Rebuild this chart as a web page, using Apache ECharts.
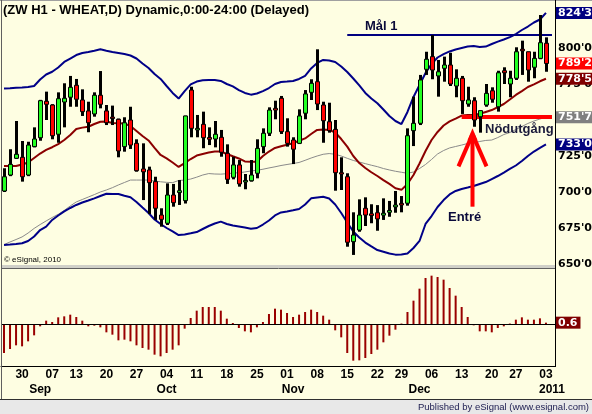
<!DOCTYPE html>
<html>
<head>
<meta charset="utf-8">
<title>ZW H1 - WHEAT,D</title>
<script src="https://cdn.jsdelivr.net/npm/echarts@6.0.0/dist/echarts.min.js"></script>
<style>
  html, body { margin: 0; padding: 0; background: #fefee2; }
  #chart { width: 592px; height: 414px; }
</style>
</head>
<body>
<div id="chart"></div>
<script>
// trading days, MM-DD (last one is an empty slot)
var dates = ['08-25','08-26','08-27',
  '08-30','08-31','09-01','09-02','09-03',
  '09-07','09-08','09-09','09-10',
  '09-13','09-14','09-15','09-16','09-17',
  '09-20','09-21','09-22','09-23','09-24',
  '09-27','09-28','09-29','09-30','10-01',
  '10-04','10-05','10-06','10-07','10-08',
  '10-11','10-12','10-13','10-14','10-15',
  '10-18','10-19','10-20','10-21','10-22',
  '10-25','10-26','10-27','10-28','10-29',
  '11-01','11-02','11-03','11-04','11-05',
  '11-08','11-09','11-10','11-11','11-12',
  '11-15','11-16','11-17','11-18','11-19',
  '11-22','11-23','11-24','11-26',
  '11-29','11-30','12-01','12-02','12-03',
  '12-06','12-07','12-08','12-09','12-10',
  '12-13','12-14','12-15','12-16','12-17',
  '12-20','12-21','12-22','12-23',
  '12-27','12-28','12-29','12-30','12-31',
  '01-03','01-04'];

var weekStarts = ['08-30','09-07','09-13','09-20','09-27','10-04','10-11','10-18','10-25',
  '11-01','11-08','11-15','11-22','11-29','12-06','12-13','12-20','12-27','01-03'];
var monthMarks = {'09-02': 'Sep', '10-04': 'Oct', '11-02': 'Nov', '12-02': 'Dec', '01-04': '2011'};

var opens = [700.7,711.8,723.4,724.1,711.8,731.5,737.7,763,760.4,740.1,
  762.5,765.8,774.1,763.9,756.3,754.2,767.2,756.3,752,750.5,
  731.5,750,733.8,716,715.3,707.2,684,678.3,697.9,700,
  694,770.8,743.1,747,737.5,736.8,738,726.9,710.2,718.8,
  707,707.8,713,731.5,740.8,758.1,765.1,741.9,736.1,733.8,
  754.7,769.2,776.6,760.4,748.8,743.5,713.4,710.6,665.5,673.6,
  688.7,684.5,685.6,684.3,686.3,690,692.1,692.2,742.6,747.7,
  785.2,794,780.6,785.9,788.2,773.6,779,761.1,763.4,752.3,
  760.4,770.3,759.2,784.2,775,779,798.8,797.4,786.6,792.8,
  803.3];
var closes = [710.6,719.2,726.2,710.6,732.6,736.8,763.4,760.9,739.1,764.8,
  765.1,772.7,764.4,755.8,748.1,767.2,760.9,748.1,751,728.5,
  748.1,732.6,714.8,714,706.5,688.7,681,697.9,692.6,700.5,
  752.8,744.2,744.2,737.7,737,740.1,727.6,708.8,718.8,705.6,
  708,711.8,730.3,740.8,756.9,756.9,741.9,733.8,729.7,752.8,
  768.1,775.5,761.1,749.5,742.6,713.4,712.5,665.1,670.1,684,
  684,684,681.3,684.9,686.8,690.6,691,739.1,747.7,777.8,
  792.2,784.7,783.5,788.2,775,779,763.4,763.9,750,756.5,
  768.5,764.4,782.8,782.8,779,797.4,798.4,784.7,792.8,803.7,
  789.25];
var lows = [700,711,723,707.2,711,731,735.6,750,736.6,734.2,
  744.9,759.2,759.2,752.8,741.5,752.3,758.1,746.5,746.5,724.1,
  728,729.9,714.1,694.4,684.7,680.6,675.9,677.1,689.8,691,
  692,738,738,730.4,732.6,731,724.5,705.6,708.8,703.7,
  701.9,707.2,709.5,726.9,738.9,750.5,740.3,731.5,719.4,733.3,
  750.5,763.9,756.9,734.2,741.2,700.9,701.4,662,656.3,672.4,
  676.4,678.3,673.1,680.6,682.8,685.6,685.9,690.5,731.9,746.5,
  781.3,778.3,766.2,776.6,773.6,765.8,754.2,759.2,745.3,741.2,
  759.2,762,755.8,775,765.8,777.8,781.3,776.6,779,792.2,
  783.5];
var highs = [716.5,729.7,749.3,735.4,734.9,744.9,764,769.7,761,769.2,
  775.5,780.6,778.5,771.3,762.7,769.2,784,760.4,760,751,
  751.9,759.2,736.6,733.8,717.6,710.6,688.7,706,705.6,708.3,
  753,773.1,753.5,755.8,744.9,749.3,743.1,733.1,724.5,722.2,
  712.5,722.2,736.6,744.2,758.8,763.4,766.7,751.2,738,757.4,
  770.8,778.3,799.1,762.7,762,750,724.1,713,685.9,694.9,
  696.3,691.5,690.9,695.6,693.8,700.7,697.2,744.2,766.2,781.3,
  797.4,809,791.7,794,796.7,785.2,780.6,773.1,765.8,756.5,
  775,772.7,784.2,786.6,784.2,800.5,805.1,797.4,797.4,822.9,
  807.4];

// bands and averages
var upper = [771.9,772.1,772.4,772.6,772.9,773.6,778.1,781.6,783.5,786.5,
  790.3,792.7,795.1,796.5,797.2,798.1,799.1,798.1,797.2,796.5,
  795.8,794.8,792.7,789.2,786.1,781.9,778.5,773.6,768.8,764.9,
  770.1,774.7,776.7,777.6,777.8,777.8,777.1,775,773.3,770.8,
  768.8,767.6,768.4,770.1,772.2,775,776.4,776.7,777.1,778.5,
  780.6,785.8,789.6,791.7,791.3,790.3,787.2,783.3,778.8,774,
  768.8,764.9,761.6,757.3,752.8,749.3,747.2,755.6,766,774.3,
  782.6,788.9,793.4,795.8,797.6,799,800,801,801.4,800.7,
  801,802.8,804.4,805.9,807.6,809.7,812.5,814.9,817.7,819.8,
  824.375];
var middle = [718.1,718.1,718.1,719.1,720.5,723.6,726.7,729.2,731.1,733.3,
  736.1,739.6,743.8,744.7,745.3,747.2,748.8,749,747.9,747.7,
  747.5,745.8,742.4,738.9,735.8,730.6,725.7,723.3,720.5,717.4,
  720.1,722.9,725.3,726.4,727.4,728.1,728.1,726.4,724.8,723.3,
  721.2,721,721,725,728.1,730.6,731.8,732.8,733.9,735.6,
  737.2,740.3,743.1,743.4,743.1,741.3,736.8,731.5,725,720.1,
  716.7,713.7,711.1,708.3,705.6,702.6,701.5,705.6,711.8,719.8,
  728.5,736.1,741.7,746.2,749,751,753.1,753.5,753.5,754.3,
  755.6,756.9,759,761.1,764.2,767.4,770.1,772.9,774.7,776.9,
  778.625];
var lower = [663.2,663.5,663.9,664.4,666,669.1,673.6,676,680.6,683.7,
  686.5,688.9,691,692.7,694.1,695.6,697.2,698.8,698.6,698.6,
  697.4,696.3,693.1,689.2,685.4,680.9,677.8,675,672.6,670.1,
  670.5,671.3,672.2,674.3,676.4,678.1,679.4,677.8,676.7,676,
  675.3,674.5,675,677.4,680.2,683.7,685.8,686.5,687.3,688.2,
  691.3,695.6,696.2,696.7,695.5,691.3,685.4,678.8,672.6,668.4,
  664.9,662.2,659.7,658.5,657.3,656.5,656.6,657.3,661.1,666,
  677.8,683.3,689.6,694.4,698.3,700.7,702.1,703.1,704.2,705.6,
  706.9,709,711.1,713.5,716,718.4,721.5,725,728.1,730.6,
  733];
var slow = [663.5,665.3,667,668.8,671.5,674.7,677.4,679.9,682.3,684.5,
  687.2,690.3,693.1,694.8,696.5,698.2,700,701.4,703,704.9,
  706.6,708.3,708.3,708.3,708.3,707.6,707.1,706.7,706.5,708,
  708.3,709,710.3,711.8,712.8,712.5,712.4,712.7,713.1,713.4,
  713.9,714.6,715.1,715.8,716.7,717.5,718.4,719.1,719.8,720.5,
  722,723.6,725,726.2,726.7,726.2,725,723.4,721.9,720.8,
  719.7,718.6,717.6,716.3,715.3,714.4,713.7,713,713.9,716.3,
  719.1,722.6,726.4,728.8,730.6,731.6,732.6,733.7,734,735.1,
  735.8,736.1,737.8,739.9,741.3,743.4,745.5,747.6,749.3,750.7,
  751.875];

// lower panel oscillator
var hist = [-13.05,-11.25,-9.6,-10.05,-7.8,-5.1,-1.05,1.5,0.9,3.0,
  3.45,4.2,3.15,1.5,-1.05,-0.75,-1.5,-3.75,-4.8,-7.35,
  -7.05,-7.8,-9.6,-10.8,-11.55,-13.8,-14.55,-13.05,-11.55,-9.6,
  -2.1,2.7,6.0,7.65,7.65,7.65,6.0,2.4,0.45,-1.8,
  -3.3,-3.75,-1.5,0.9,4.5,6.9,6.45,4.95,3.15,4.2,
  5.4,6.45,5.4,3.75,1.95,-2.85,-6.0,-13.05,-16.5,-16.35,
  -15.3,-13.5,-11.55,-8.25,-5.25,-2.55,0.2,5.4,10.5,15.9,
  20.7,21.75,21.15,19.95,16.2,12.75,7.65,3.15,-0.6,-3.3,
  -3.3,-3.75,-1.8,-1.05,0.2,1.95,3.0,1.95,1.95,2.55,
  0.6];

// annotations
var targetLevel = 809.5, targetFrom = '11-15';
var exitLevel = 752, exitFrom = '12-13';
var entryIndex = 78, entryTip = 744.2, entryBase = 689.8;
var lastOsc = 0.6;

var FONT = 'Liberation Sans, Arial, sans-serif';
var BG = '#fefee2';

function eighths(v) {
  var w = Math.floor(v);
  return w + "'" + Math.round((v - w) * 8);
}

function flag(v, text, bg) {
  return {
    yAxis: v,
    lineStyle: { color: 'rgba(0,0,0,0)', width: 1 },
    label: {
      show: true, position: 'end', distance: 1, formatter: text,
      backgroundColor: bg, color: '#fff', fontWeight: 'bold',
      fontFamily: 'DejaVu Sans', fontSize: 11, padding: [1, 3, 0, 2]
    }
  };
}

var candleData = [];
for (var i = 0; i < closes.length; i++) {
  candleData.push([i, opens[i], closes[i], lows[i], highs[i]]);
}
var last = closes.length - 1;

function renderCandle(params, api) {
  var i = api.value(0);
  var o = api.coord([i, api.value(1)]);
  var c = api.coord([i, api.value(2)]);
  var l = api.coord([i, api.value(3)]);
  var h = api.coord([i, api.value(4)]);
  var x = Math.round(o[0]);
  var top = Math.min(o[1], c[1]), bot = Math.max(o[1], c[1]);
  if (bot - top < 1) { top -= 0.5; bot += 0.5; }
  var up = api.value(2) >= api.value(1);
  return {
    type: 'group',
    children: [
      { type: 'rect', shape: { x: x - 1, y: h[1], width: 3, height: l[1] - h[1] }, style: { fill: '#000' } },
      { type: 'rect', shape: { x: x - 1.5, y: top, width: 4, height: bot - top },
        style: { fill: up ? '#22ff22' : '#ff0000', stroke: '#000', lineWidth: 1 } }
    ]
  };
}

function renderArrow(params, api) {
  var tip = api.coord([api.value(0), api.value(1)]);
  var base = api.coord([api.value(0), api.value(2)]);
  var x = Math.round(tip[0]) - 1.5, y = tip[1];
  var st = { stroke: '#ff0000', lineWidth: 4 };
  return {
    type: 'group',
    children: [
      { type: 'line', shape: { x1: x, y1: y + 6, x2: x, y2: base[1] }, style: st },
      { type: 'line', shape: { x1: x, y1: y + 6, x2: x - 14, y2: y + 38 }, style: st },
      { type: 'line', shape: { x1: x, y1: y + 6, x2: x + 14, y2: y + 38 }, style: st },
      { type: 'polygon', shape: { points: [[x, y], [x - 5, y + 12], [x + 5, y + 12]] }, style: { fill: '#ff0000' } }
    ]
  };
}

var chart = echarts.init(document.getElementById('chart'));
chart.setOption({
  animation: false,
  backgroundColor: BG,
  textStyle: { fontFamily: FONT },
  grid: [
    { left: 1, width: 554, top: 12, height: 252, outerBoundsMode: 'none', containLabel: false },
    { left: 1, width: 554, top: 268, height: 98, outerBoundsMode: 'none', containLabel: false }
  ],
  xAxis: [
    { type: 'category', gridIndex: 0, data: dates, show: false },
    { type: 'category', gridIndex: 1, data: dates, position: 'bottom',
      axisLine: { onZero: false, lineStyle: { color: '#000', width: 1 } },
      axisTick: { show: false }, splitLine: { show: false },
      axisLabel: {
        interval: function (idx, v) { return weekStarts.indexOf(v) >= 0; },
        formatter: function (v) { return v.slice(3); },
        color: '#000', fontWeight: 'bold', fontSize: 12, margin: 3
      } },
    { type: 'category', gridIndex: 1, data: dates, position: 'bottom',
      axisLine: { show: false, onZero: false }, axisTick: { show: false }, splitLine: { show: false },
      axisLabel: {
        interval: function (idx, v) { return monthMarks.hasOwnProperty(v); },
        formatter: function (v) { return monthMarks[v] || ''; },
        color: '#000', fontWeight: 'bold', fontSize: 12, margin: 18
      } }
  ],
  yAxis: [
    { type: 'value', gridIndex: 0, position: 'right', min: 650, max: 825, interval: 25,
      splitLine: { show: false }, axisLine: { show: false }, axisTick: { show: false },
      axisLabel: { margin: 3, color: '#000', fontWeight: 'bold', fontSize: 11, fontFamily: 'DejaVu Sans',
        formatter: function (v) { return v >= 825 ? '' : eighths(v); } } },
    { type: 'value', gridIndex: 1, position: 'right', min: -18.9, max: 25.2, show: false }
  ],
  series: [
    { name: 'slow', type: 'line', xAxisIndex: 0, yAxisIndex: 0, data: slow, symbol: 'none', z: 2,
      lineStyle: { color: '#8a8a8a', width: 1 }, silent: true,
      markLine: { silent: true, symbol: 'none', animation: false, z: 8,
        data: [
          flag(upper[last], eighths(upper[last]), '#000080'),
          flag(closes[last], eighths(closes[last]), '#ff0000'),
          flag(middle[last], eighths(middle[last]), '#800000'),
          flag(slow[last], eighths(slow[last]), '#808080'),
          flag(lower[last], eighths(lower[last]), '#000080')
        ] } },
    { name: 'lower', type: 'line', xAxisIndex: 0, yAxisIndex: 0, data: lower, symbol: 'none', z: 2,
      lineStyle: { color: '#000088', width: 2 }, silent: true },
    { name: 'middle', type: 'line', xAxisIndex: 0, yAxisIndex: 0, data: middle, symbol: 'none', z: 2,
      lineStyle: { color: '#8b0000', width: 2 }, silent: true },
    { name: 'upper', type: 'line', xAxisIndex: 0, yAxisIndex: 0, data: upper, symbol: 'none', z: 2,
      lineStyle: { color: '#000088', width: 2 }, silent: true,
      markLine: { silent: true, symbol: 'none', animation: false, z: 3, label: { show: false },
        data: [
          [{ coord: [targetFrom, targetLevel], lineStyle: { color: '#000080', width: 2, type: 'solid' } },
           { coord: [dates[dates.length - 1], targetLevel] }],
          [{ coord: [exitFrom, exitLevel], lineStyle: { color: '#ff0000', width: 4, type: 'solid' } },
           { coord: [dates[dates.length - 1], exitLevel] }]
        ] } },
    { name: 'price', type: 'custom', xAxisIndex: 0, yAxisIndex: 0, data: candleData, z: 6,
      renderItem: renderCandle, encode: { x: 0, y: [1, 2, 3, 4] }, silent: true },
    { name: 'entry', type: 'custom', xAxisIndex: 0, yAxisIndex: 0, z: 7, silent: true,
      data: [[entryIndex, entryTip, entryBase]], renderItem: renderArrow, encode: { x: 0, y: [1, 2] } },
    { name: 'osc', type: 'bar', xAxisIndex: 1, yAxisIndex: 1, data: hist, barWidth: 2, silent: true,
      itemStyle: { color: '#990000' },
      markLine: { silent: true, symbol: 'none', animation: false,
        data: [
          { yAxis: 0, lineStyle: { color: '#000', width: 1, type: 'solid' }, label: { show: false } },
          flag(lastOsc, String(lastOsc), '#800000')
        ] } }
  ],
  graphic: [
    { type: 'line', z: 20, shape: { x1: 0, y1: 0.5, x2: 592, y2: 0.5 }, style: { stroke: '#a0a0a0', lineWidth: 1 } },
    { type: 'line', z: 20, shape: { x1: 1.5, y1: 0, x2: 1.5, y2: 400 }, style: { stroke: '#606060', lineWidth: 1 } },
    { type: 'line', z: 20, shape: { x1: 555.5, y1: 0, x2: 555.5, y2: 367 }, style: { stroke: '#000', lineWidth: 1 } },
    { type: 'rect', z: 20, shape: { x: 2, y: 265, width: 553, height: 3 }, style: { fill: '#d0d0c8' } },
    { type: 'line', z: 20, shape: { x1: 2, y1: 268.5, x2: 555, y2: 268.5 }, style: { stroke: '#606060', lineWidth: 1 } },
    { type: 'rect', z: 20, shape: { x: 0, y: 400, width: 592, height: 14 }, style: { fill: '#e8e8e8' } },
    { type: 'line', z: 20, shape: { x1: 0, y1: 399.5, x2: 592, y2: 399.5 }, style: { stroke: '#303030', lineWidth: 1 } },
    { type: 'text', z: 20, left: 3, top: 4,
      style: { text: '(ZW H1 - WHEAT,D) Dynamic,0:00-24:00 (Delayed)', font: 'bold 13px ' + FONT, fill: '#000' } },
    { type: 'text', z: 20, x: 365, y: 26,
      style: { text: 'Mål 1', font: 'bold 13px ' + FONT, fill: '#0a0a3a', textVerticalAlign: 'middle' } },
    { type: 'text', z: 20, x: 485, y: 129,
      style: { text: 'Nödutgång', font: 'bold 13px ' + FONT, fill: '#1a1a3a', textVerticalAlign: 'middle' } },
    { type: 'text', z: 20, x: 448, y: 217,
      style: { text: 'Entré', font: 'bold 13px ' + FONT, fill: '#0a0a3a', textVerticalAlign: 'middle' } },
    { type: 'text', z: 20, x: 4, y: 260,
      style: { text: '© eSignal, 2010', font: '8px ' + FONT, fill: '#000', textVerticalAlign: 'middle' } },
    { type: 'text', z: 20, x: 589, y: 407.5,
      style: { text: 'Published by eSignal (www.esignal.com)', font: '9.5px ' + FONT, fill: '#1c1c50',
        textAlign: 'right', textVerticalAlign: 'middle' } }
  ]
});
</script>
</body>
</html>
